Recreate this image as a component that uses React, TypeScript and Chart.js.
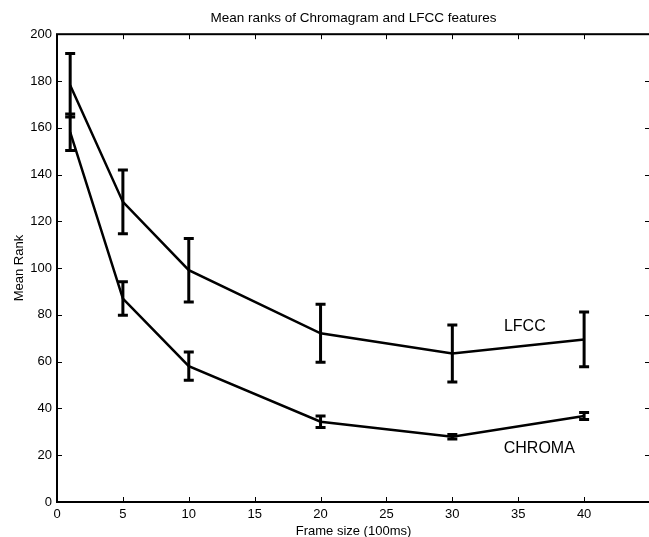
import { useEffect, useRef } from 'react';
import { Chart, registerables } from 'chart.js';

Chart.register(...registerables);

const frameSizes = [1, 5, 10, 20, 30, 40];
const lfccMean = [178.2, 128.3, 99.1, 72.1, 63.5, 69.5];
const lfccErr = [13.6, 13.6, 13.6, 12.4, 12.2, 11.7];
const chromaMean = [158.1, 87.0, 58.1, 34.3, 27.9, 36.8];
const chromaErr = [7.8, 7.2, 6.0, 2.5, 1.0, 1.5];
const xTickValues = [0, 5, 10, 15, 20, 25, 30, 35, 40];
const yTickValues = [0, 20, 40, 60, 80, 100, 120, 140, 160, 180, 200];
const seriesNames = ['LFCC', 'CHROMA'];
// annotation anchors in data units (x, y)
const annotationX = [35.5, 36.6];
const annotationY = [75.0, 23.0];

const FONT = "'Liberation Sans', Arial, Helvetica, sans-serif";

export default function App() {
  const ref = useRef<HTMLCanvasElement | null>(null);

  useEffect(() => {
    document.body.style.margin = '0';
    document.body.style.overflow = 'hidden';
    const canvas = ref.current;
    if (!canvas) return;

    const boxPlugin = {
      id: 'matlabBox',
      afterDatasetsDraw(chart: any) {
        const { ctx, chartArea, scales } = chart;
        const xs = scales.x;
        const ys = scales.y;
        ctx.save();
        ctx.strokeStyle = '#000';
        // error bars
        const allMeans = [lfccMean, chromaMean];
        const allErrs = [lfccErr, chromaErr];
        ctx.lineWidth = 3;
        allMeans.forEach((means, si) => {
          means.forEach((m, i) => {
            const px = xs.getPixelForValue(frameSizes[i]);
            const top = ys.getPixelForValue(m + allErrs[si][i]);
            const bot = ys.getPixelForValue(m - allErrs[si][i]);
            ctx.beginPath();
            ctx.moveTo(px, top);
            ctx.lineTo(px, bot);
            ctx.moveTo(px - 5, top);
            ctx.lineTo(px + 5, top);
            ctx.moveTo(px - 5, bot);
            ctx.lineTo(px + 5, bot);
            ctx.stroke();
          });
        });
        // box
        ctx.lineWidth = 2;
        ctx.strokeRect(chartArea.left, chartArea.top, chartArea.right - chartArea.left, chartArea.bottom - chartArea.top);
        // ticks inward
        ctx.lineWidth = 1;
        const tl = 5;
        xTickValues.forEach((v) => {
          const px = Math.round(xs.getPixelForValue(v)) + 0.5;
          ctx.beginPath();
          ctx.moveTo(px, chartArea.bottom);
          ctx.lineTo(px, chartArea.bottom - tl);
          ctx.moveTo(px, chartArea.top);
          ctx.lineTo(px, chartArea.top + tl);
          ctx.stroke();
        });
        yTickValues.forEach((v) => {
          const py = Math.round(ys.getPixelForValue(v)) + 0.5;
          ctx.beginPath();
          ctx.moveTo(chartArea.left, py);
          ctx.lineTo(chartArea.left + tl, py);
          ctx.moveTo(chartArea.right, py);
          ctx.lineTo(chartArea.right - tl, py);
          ctx.stroke();
        });
        // annotations
        ctx.fillStyle = '#000';
        ctx.font = `16px ${FONT}`;
        ctx.textAlign = 'center';
        ctx.textBaseline = 'middle';
        seriesNames.forEach((name, i) => {
          ctx.fillText(name, xs.getPixelForValue(annotationX[i]), ys.getPixelForValue(annotationY[i]));
        });
        ctx.restore();
      },
    };

    const chart = new Chart(canvas, {
      type: 'line',
      data: {
        datasets: [
          {
            label: seriesNames[0],
            data: frameSizes.map((x, i) => ({ x, y: lfccMean[i] })),
            borderColor: '#000',
            borderWidth: 2.5,
            pointRadius: 0,
            tension: 0,
          },
          {
            label: seriesNames[1],
            data: frameSizes.map((x, i) => ({ x, y: chromaMean[i] })),
            borderColor: '#000',
            borderWidth: 2.5,
            pointRadius: 0,
            tension: 0,
          },
        ],
      },
      options: {
        animation: false,
        responsive: false,
        devicePixelRatio: 1,
        layout: { padding: { left: 0, right: 30, top: 0, bottom: 0 } },
        plugins: {
          legend: { display: false },
          tooltip: { enabled: false },
          title: {
            display: true,
            fullSize: false,
            text: 'Mean ranks of Chromagram and LFCC features',
            color: '#000',
            font: { family: FONT, size: 13.5, weight: 'normal' },
            padding: { top: 10, bottom: 8 },
          },
        },
        scales: {
          x: {
            type: 'linear',
            min: 0,
            max: 45,
            afterBuildTicks: (s: any) => {
              s.ticks = xTickValues.map((v) => ({ value: v }));
            },
            afterFit: (s: any) => {
              s.height = 35;
            },
            grid: { display: false, drawTicks: false },
            border: { display: false },
            ticks: { color: '#000', font: { family: FONT, size: 13 }, padding: 5, maxRotation: 0 },
            title: {
              display: true,
              text: 'Frame size (100ms)',
              color: '#000',
              font: { family: FONT, size: 13 },
              padding: { top: 0, bottom: -2 },
            },
          },
          y: {
            type: 'linear',
            min: 0,
            max: 200,
            afterBuildTicks: (s: any) => {
              s.ticks = yTickValues.map((v) => ({ value: v }));
            },
            afterFit: (s: any) => {
              s.width = 57;
            },
            grid: { display: false, drawTicks: false },
            border: { display: false },
            ticks: { color: '#000', font: { family: FONT, size: 13 }, padding: 5 },
            title: {
              display: true,
              text: 'Mean Rank',
              color: '#000',
              font: { family: FONT, size: 13 },
              padding: { top: 12, bottom: 0 },
            },
          },
        },
      },
      plugins: [boxPlugin],
    });

    return () => chart.destroy();
  }, []);

  return (
    <div style={{ position: 'absolute', left: 0, top: 0 }}>
      <canvas ref={ref} width={680} height={537} style={{ display: 'block', width: 680, height: 537 }} />
    </div>
  );
}
